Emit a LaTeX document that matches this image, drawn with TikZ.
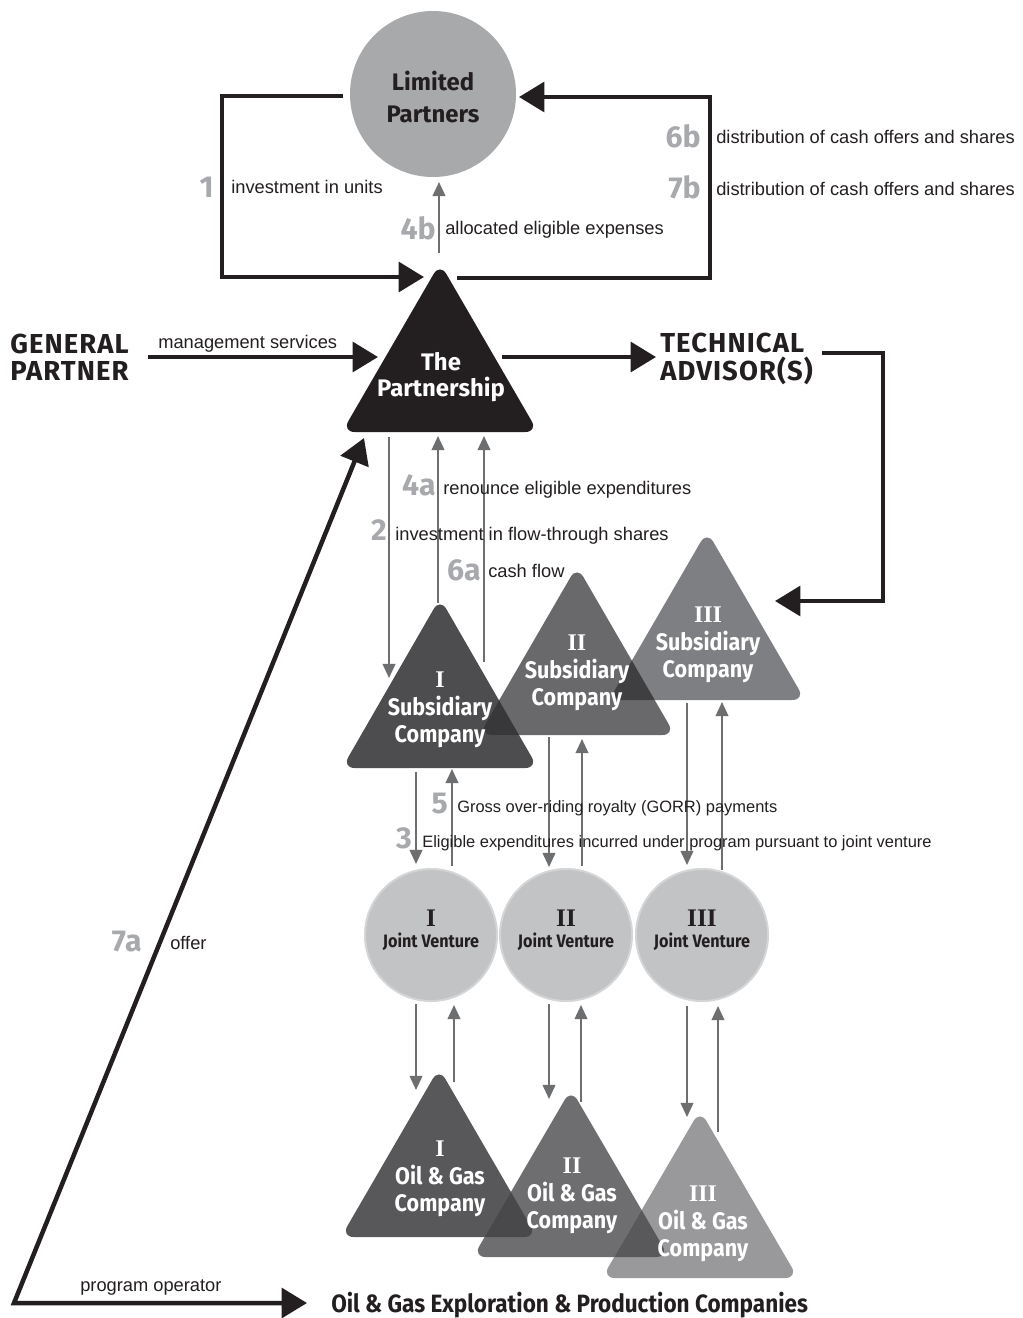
\documentclass[tikz,border=0pt]{standalone}
\usepackage{fontspec}
\setmainfont{Liberation Sans}
\newfontfamily\hf{Fira Sans}
\newfontfamily\hfh{Fira Sans}[LetterSpace=4]
\newfontfamily\hfc{Fira Sans}[FakeStretch=0.9]
\newfontfamily\rmn{Liberation Serif}
\usetikzlibrary{arrows.meta}
\definecolor{blk}{HTML}{231F20}
\definecolor{lpg}{HTML}{A8A9AB}
\definecolor{numg}{HTML}{A7A9AC}
\definecolor{arrg}{HTML}{6D6E70}
\definecolor{sa}{HTML}{4D4D4F}
\definecolor{sb}{HTML}{69696C}
\definecolor{sc}{HTML}{7E7F82}
\definecolor{sab}{HTML}{38383A}
\definecolor{sbc}{HTML}{3F3F41}
\definecolor{oa}{HTML}{58585A}
\definecolor{ob}{HTML}{6E6E71}
\definecolor{oc}{HTML}{99999C}
\definecolor{oab}{HTML}{49494B}
\definecolor{obc}{HTML}{59595B}
\definecolor{jvg}{HTML}{C2C3C5}
\definecolor{jvo}{HTML}{D4D5D7}
\newcommand\trip[3]{(#1,#2-7) -- (#1+98,#3) -- (#1-98,#3) -- cycle}
\tikzset{
  heavy/.style={line width=3.2pt, draw=blk},
  heavyarr/.style={heavy, -{Triangle[length=18pt,width=21pt]}},
  thinarr/.style={line width=1.3pt, draw=arrg, -{Triangle[length=10pt,width=9pt]}},
  lbl/.style={anchor=mid west, inner sep=0, yshift=-1.8pt, font=\fontsize{13}{15}\selectfont, text=blk},
  slbl/.style={lbl, font=\fontsize{11.7}{14}\selectfont},
  num/.style={anchor=east, inner sep=0, font=\hf\bfseries\fontsize{21.5}{22}\selectfont, text=numg},
  head/.style={inner sep=0, align=left, text=blk, font=\hfh\bfseries\fontsize{19.5}{19.5}\selectfont},
  tritext/.style={inner sep=0, align=center, text=white, font=\hfc\bfseries\fontsize{17}{19.5}\selectfont},
  jvtext/.style={inner sep=0, align=center, text=blk, font=\hfc\bfseries\fontsize{12.8}{17}\selectfont},
  rnum/.style={inner sep=0, text=#1, font=\rmn\bfseries\fontsize{18}{18}\selectfont},
  tri/.style={rounded corners=9pt}
}
\begin{document}
\begin{tikzpicture}[x=0.025cm, y=-0.025cm]
\fill[white] (0,0) rectangle (1023,1318);
\useasboundingbox (0,0) rectangle (1023,1318);

% ---------- Limited partners ----------
\fill[lpg] (433,94) circle [radius=83];
\node[inner sep=0, align=center, text=blk, font=\hf\bfseries\fontsize{17}{23}\selectfont] (lp) at (433,97) {Limited\\Partners};

% ---------- triangles ----------
\fill[blk, tri] \trip{440}{270}{432};
\node[tritext, font=\hf\bfseries\fontsize{17}{18.5}\selectfont] (part) at (441,377) {The\\Partnership};

% subsidiaries
\fill[sa, tri] \trip{440}{605}{768};
\fill[sb, tri] \trip{577}{573}{735};
\fill[sc, tri] \trip{707}{538}{700};
\begin{scope}
  \clip[tri] \trip{440}{605}{768};
  \fill[sab, tri] \trip{577}{573}{735};
\end{scope}
\begin{scope}
  \clip[tri] \trip{577}{573}{735};
  \fill[sbc, tri] \trip{707}{538}{700};
\end{scope}
\node[tritext] (s1) at (440,710) {{\rmn\bfseries I}\\Subsidiary\\Company};
\node[tritext] (s2) at (577,673) {{\rmn\bfseries II}\\Subsidiary\\Company};
\node[tritext] (s3) at (708,645) {{\rmn\bfseries III}\\Subsidiary\\Company};

% oil & gas companies
\fill[oa, tri] \trip{439}{1075}{1237};
\fill[ob, tri] \trip{571}{1096}{1257};
\fill[oc, tri] \trip{700}{1117}{1278};
\begin{scope}
  \clip[tri] \trip{439}{1075}{1237};
  \fill[oab, tri] \trip{571}{1096}{1257};
\end{scope}
\begin{scope}
  \clip[tri] \trip{571}{1096}{1257};
  \fill[obc, tri] \trip{700}{1117}{1278};
\end{scope}
\node[tritext] (o1) at (440,1179) {{\rmn\bfseries I}\\Oil \& Gas\\Company};
\node[tritext] (o2) at (572,1196) {{\rmn\bfseries II}\\Oil \& Gas\\Company};
\node[tritext] (o3) at (703,1224) {{\rmn\bfseries III}\\Oil \& Gas\\Company};

% joint ventures
\foreach \n/\x/\r in {1/431/I, 2/566/II, 3/702/III}{
  \node[circle, fill=jvg, draw=jvo, line width=1.4pt, minimum size=3.3cm, inner sep=0] (jv\n) at (\x,935) {};
  \node[rnum=blk] (jvr\n) at (\x,918) {\r};
  \node[jvtext] (jvt\n) at (\x,942) {Joint Venture};
}

% ---------- headings ----------
\node[head, anchor=west] (gp) at (10,357) {GENERAL\\PARTNER};
\node[head, anchor=west] (ta) at (660,359) {TECHNICAL\\ADVISOR(S)};
\node[inner sep=0, text=blk, font=\hfc\bfseries\fontsize{17.8}{20}\selectfont, anchor=west] (oge) at (331,1305) {Oil \& Gas Exploration \& Production Companies};

% ---------- heavy connectors ----------
\coordinate (lpL) at (343,96);
\coordinate (pTipL) at (424,277);
\draw[heavyarr] (lpL) -- (222,96) -- (222,277) -- (pTipL);
\coordinate (pR) at (457,278);
\coordinate (lpR) at (519,97);
\draw[heavyarr] (pR) -- (710,278) -- (710,97) -- (lpR);
\coordinate (gpE) at (148,357);
\coordinate (pL) at (378,357);
\draw[heavyarr] (gpE) -- (pL);
\coordinate (pE) at (502,357);
\coordinate (taW) at (656,357);
\draw[heavyarr] (pE) -- (taW);
\coordinate (taE) at (822,353);
\coordinate (s3E) at (775,601);
\draw[heavyarr] (taE) -- (883,353) -- (883,601) -- (s3E);
\coordinate (corner) at (14,1303);
\coordinate (pLL) at (364,438);
\coordinate (ogeW) at (307,1303);
\draw[heavy, line join=miter, {Triangle[length=18pt,width=21pt]}-{Triangle[length=18pt,width=21pt]}] (pLL) -- (corner) -- (ogeW);

% ---------- thin connectors ----------
\coordinate (p4b) at (439,253);
\coordinate (lp4b) at (439,182);
\draw[thinarr] (p4b) -- (lp4b);
\draw[thinarr] (389,437) -- (389,678);
\draw[thinarr] (438,603) -- (438,436);
\draw[thinarr] (484,662) -- (484,436);
% sub -> jv
\draw[thinarr] (416,772) -- (416,864);
\draw[thinarr] (452,866) -- (452,769);
\draw[thinarr] (549,737) -- (549,867);
\draw[thinarr] (582,866) -- (582,739);
\draw[thinarr] (687,703) -- (687,865);
\draw[thinarr] (722,870) -- (722,702);
% jv -> oil & gas
\draw[thinarr] (416,1004) -- (416,1090);
\draw[thinarr] (454,1082) -- (454,1005);
\draw[thinarr] (549,1004) -- (549,1099);
\draw[thinarr] (581,1102) -- (581,1005);
\draw[thinarr] (687,1006) -- (687,1117);
\draw[thinarr] (718,1132) -- (718,1006);

% ---------- labels ----------
\node[num] (n1) at (214,187) {1};
\node[lbl] (t1) at (231,187) {investment in units};
\node[num] (n4b) at (436,228) {4b};
\node[lbl] (t4b) at (445,228) {allocated eligible expenses};
\node[num] (n6b) at (701,136) {6b};
\node[lbl] (t6b) at (716,137) {distribution of cash offers and shares};
\node[num] (n7b) at (701,187) {7b};
\node[lbl] (t7b) at (716,189) {distribution of cash offers and shares};
\node[lbl] (tms) at (158,342) {management services};
\node[num] (n4a) at (436,485) {4a};
\node[lbl] (t4a) at (443,488) {renounce eligible expenditures};
\node[num] (n2) at (387,530) {2};
\node[lbl] (t2) at (395,534) {investment in flow-through shares};
\node[num] (n6a) at (481,570) {6a};
\node[lbl] (t6a) at (488,571) {cash flow};
\node[num] (n5) at (448,804) {5};
\node[slbl] (t5) at (457,806) {Gross over-riding royalty (GORR) payments};
\node[num] (n3) at (412,838) {3};
\node[slbl] (t3) at (422,841) {Eligible expenditures incurred under program pursuant to joint venture};
\node[num] (n7a) at (142,942) {7a};
\node[lbl] (t7a) at (170,943) {offer};
\node[lbl] (tpo) at (80,1285) {program operator};
\end{tikzpicture}
\end{document}
